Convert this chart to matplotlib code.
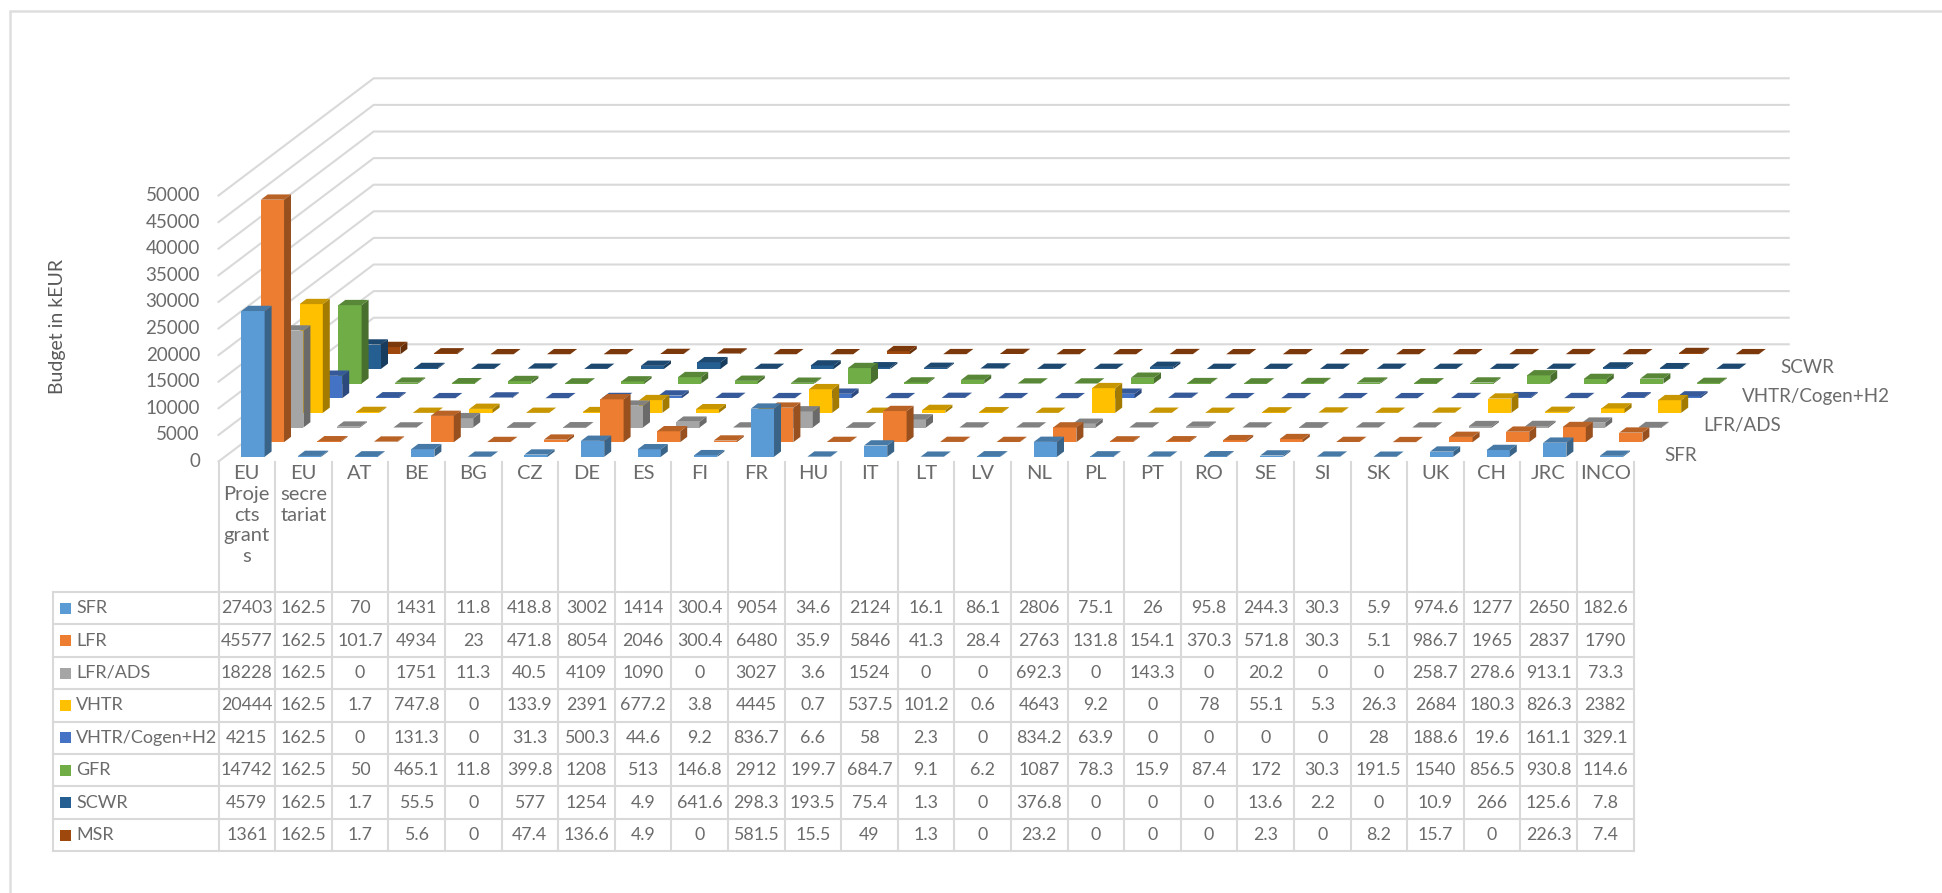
import matplotlib
matplotlib.use("Agg")
import matplotlib.pyplot as plt
from matplotlib.patches import Polygon, Rectangle
from matplotlib.colors import to_rgb

# =====================================================
# 1. DATA
# =====================================================

categories = ["EU\nProje\ncts\ngrant\ns", "EU\nsecre\ntariat", "AT", "BE", "BG", "CZ", "DE", "ES", "FI", "FR",
              "HU", "IT", "LT", "LV", "NL", "PL", "PT", "RO", "SE", "SI", "SK", "UK", "CH", "JRC", "INCO"]

series_names = ["SFR", "LFR", "LFR/ADS", "VHTR", "VHTR/Cogen+H2", "GFR", "SCWR", "MSR"]
series_colors = ["#5B9BD5", "#ED7D31", "#A5A5A5", "#FFC000", "#4472C4", "#70AD47", "#255E91", "#9E480E"]

sfr = [27403, 162.5, 70, 1431, 11.8, 418.8, 3002, 1414, 300.4, 9054, 34.6, 2124, 16.1, 86.1, 2806, 75.1, 26,
       95.8, 244.3, 30.3, 5.9, 974.6, 1277, 2650, 182.6]
lfr = [45577, 162.5, 101.7, 4934, 23, 471.8, 8054, 2046, 300.4, 6480, 35.9, 5846, 41.3, 28.4, 2763, 131.8, 154.1,
       370.3, 571.8, 30.3, 5.1, 986.7, 1965, 2837, 1790]
lfr_ads = [18228, 162.5, 0, 1751, 11.3, 40.5, 4109, 1090, 0, 3027, 3.6, 1524, 0, 0, 692.3, 0, 143.3,
           0, 20.2, 0, 0, 258.7, 278.6, 913.1, 73.3]
vhtr = [20444, 162.5, 1.7, 747.8, 0, 133.9, 2391, 677.2, 3.8, 4445, 0.7, 537.5, 101.2, 0.6, 4643, 9.2, 0,
        78, 55.1, 5.3, 26.3, 2684, 180.3, 826.3, 2382]
vhtr_cogen = [4215, 162.5, 0, 131.3, 0, 31.3, 500.3, 44.6, 9.2, 836.7, 6.6, 58, 2.3, 0, 834.2, 63.9, 0,
              0, 0, 0, 28, 188.6, 19.6, 161.1, 329.1]
gfr = [14742, 162.5, 50, 465.1, 11.8, 399.8, 1208, 513, 146.8, 2912, 199.7, 684.7, 9.1, 6.2, 1087, 78.3, 15.9,
       87.4, 172, 30.3, 191.5, 1540, 856.5, 930.8, 114.6]
scwr = [4579, 162.5, 1.7, 55.5, 0, 577, 1254, 4.9, 641.6, 298.3, 193.5, 75.4, 1.3, 0, 376.8, 0, 0,
        0, 13.6, 2.2, 0, 10.9, 266, 125.6, 7.8]
msr = [1361, 162.5, 1.7, 5.6, 0, 47.4, 136.6, 4.9, 0, 581.5, 15.5, 49, 1.3, 0, 23.2, 0, 0,
       0, 2.3, 0, 8.2, 15.7, 0, 226.3, 7.4]

all_series = [sfr, lfr, lfr_ads, vhtr, vhtr_cogen, gfr, scwr, msr]
y_ticks = [0, 5000, 10000, 15000, 20000, 25000, 30000, 35000, 40000, 45000, 50000]
depth_labels = [0, 2, 4, 6]

# =====================================================
# 2. OBLIQUE PROJECTION (Excel style 3D column chart)
# =====================================================

X0, Y0 = 218.5, 461.5      # front left corner of the floor
CAT_W = 56.6               # width of one category
DEPTH_X, DEPTH_Y = 19.4, 14.65   # shift per series going backwards
Y_SCALE = 266.0 / 50000
BAR_W = 0.41
BAR_D = 0.36


def project(cat, depth, value):
    # cat and depth in category units, value in kEUR
    return (X0 + cat * CAT_W + depth * DEPTH_X,
            Y0 - depth * DEPTH_Y - value * Y_SCALE)


def shade(color, k):
    r, g, b = to_rgb(color)
    return (r * k, g * k, b * k)


plt.rcParams["font.family"] = ["Lato", "DejaVu Sans"]
GRID = "#D9D9D9"
TEXT = "#6B6B6B"

fig = plt.figure(figsize=(19.42, 8.93), dpi=100)
ax = fig.add_axes([0, 0, 1, 1])
ax.set_xlim(0, 1942)
ax.set_ylim(893, 0)
ax.axis("off")

# frame around the picture
ax.plot([10, 10, 1942], [893, 11, 11], color="#DEDEDE", lw=1.8, solid_joinstyle="miter")

# =====================================================
# 3. WALLS AND AXIS LABELS
# =====================================================

n_cat = len(categories)
n_ser = len(all_series)

for t in y_ticks:
    x1, y1 = project(0, 0, t)
    x2, y2 = project(0, n_ser, t)
    x3, y3 = project(n_cat, n_ser, t)
    ax.plot([x1, x2, x3], [y1, y2, y3], color=GRID, lw=1.5, zorder=1)
    ax.text(200, y1, str(t), ha="right", va="center", fontsize=13.5, color=TEXT)

ax.text(57, 327, "Budget in kEUR", rotation=90, ha="center", va="center", fontsize=14, color="#595959")

for d in depth_labels:
    x, y = project(n_cat, d + 0.5, 0)
    ax.text(x + 21, y + 1, series_names[d], ha="left", va="center", fontsize=13.5, color=TEXT)

# =====================================================
# 4. BARS
# =====================================================

zo = 2
for s in range(n_ser - 1, -1, -1):
    col = series_colors[s]
    for c in range(n_cat):
        v = all_series[s][c]
        left = c + (1 - BAR_W) / 2
        right = left + BAR_W
        front = s + (1 - BAR_D) / 2
        back = front + BAR_D
        # front face, side face, top face
        face = [project(left, front, 0), project(right, front, 0), project(right, front, v), project(left, front, v)]
        side = [project(right, front, 0), project(right, back, 0), project(right, back, v), project(right, front, v)]
        top = [project(left, front, v), project(right, front, v), project(right, back, v), project(left, back, v)]
        ax.add_patch(Polygon(face, closed=True, facecolor=col, edgecolor="none", zorder=zo))
        ax.add_patch(Polygon(side, closed=True, facecolor=shade(col, 0.64), edgecolor="none", zorder=zo))
        ax.add_patch(Polygon(top, closed=True, facecolor=shade(col, 0.78), edgecolor="none", zorder=zo))
        zo += 0.01

# =====================================================
# 5. DATA TABLE
# =====================================================

TABLE_LEFT = 53
ROW_TOP = 592
ROW_H = 32.4
table_bottom = ROW_TOP + ROW_H * n_ser

for c in range(n_cat + 1):
    x = X0 + c * CAT_W
    ax.plot([x, x], [Y0, table_bottom], color=GRID, lw=1.5, zorder=1)

ax.plot([TABLE_LEFT, TABLE_LEFT], [ROW_TOP, table_bottom], color=GRID, lw=1.5, zorder=1)
for r in range(n_ser + 1):
    y = ROW_TOP + r * ROW_H
    ax.plot([TABLE_LEFT, X0 + n_cat * CAT_W], [y, y], color=GRID, lw=1.5, zorder=1)

for c, name in enumerate(categories):
    ax.text(X0 + (c + 0.5) * CAT_W, 465, name, ha="center", va="top", fontsize=14.5, color=TEXT, linespacing=1.27)

for s, name in enumerate(series_names):
    yc = ROW_TOP + (s + 0.5) * ROW_H
    ax.add_patch(Rectangle((60, yc - 5.5), 11, 11, facecolor=series_colors[s], edgecolor="none", zorder=3))
    ax.text(76, yc, name, ha="left", va="center", fontsize=13, color=TEXT)
    for c in range(n_cat):
        ax.text(X0 + (c + 0.5) * CAT_W, yc, f"{all_series[s][c]:g}", ha="center", va="center",
                fontsize=12.8, color=TEXT)

fig.savefig("out.png", dpi=100, facecolor="white")
